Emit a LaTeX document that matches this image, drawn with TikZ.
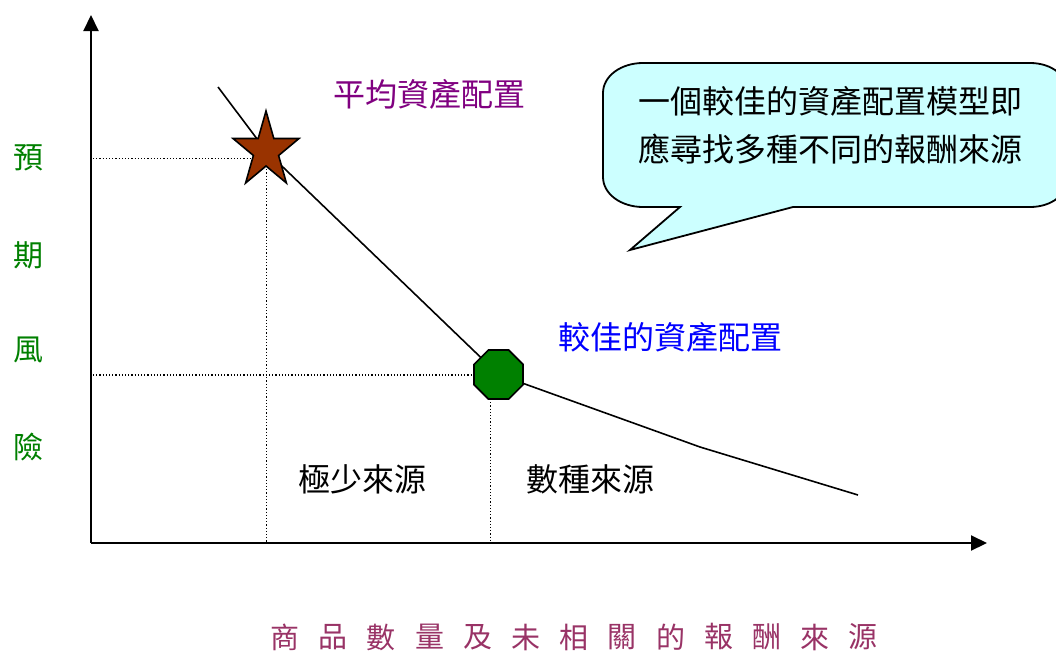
\documentclass[tikz,border=0pt]{standalone}
\usepackage{fontspec}
\setmainfont{Noto Sans CJK TC}
\usetikzlibrary{arrows.meta,shapes.geometric}
\definecolor{starbrown}{RGB}{153,51,0}
\definecolor{octgreen}{RGB}{0,128,0}
\definecolor{lblpurple}{RGB}{128,0,128}
\definecolor{lblblue}{RGB}{0,0,255}
\definecolor{axisgreen}{RGB}{0,128,0}
\definecolor{bottomred}{RGB}{153,51,102}
\definecolor{calloutfill}{RGB}{204,255,255}
\tikzset{
  axisline/.style={line width=2pt,-{Triangle[length=16pt,width=15pt]}},
  curveline/.style={line width=1.6pt},
  guide/.style={line width=1.2pt,dash pattern=on 1.2pt off 2pt},
  lbl/.style={inner sep=0pt,font=\fontsize{32pt}{36pt}\selectfont},
  sidelbl/.style={inner sep=0pt,font=\fontsize{30pt}{34pt}\selectfont,text=axisgreen},
  xchar/.style={inner sep=0pt,font=\fontsize{29pt}{34pt}\selectfont,text=bottomred},
}
\begin{document}
\begin{tikzpicture}[x=1pt,y=-1pt]
\clip (0,0) rectangle (1056,653);
\fill[white] (0,0) rectangle (1056,653);

% axes
\coordinate (O) at (91,543);
\coordinate (ytop) at (91,15);
\coordinate (xend) at (987,543);
\draw[axisline] (O) -- (ytop);
\draw[axisline] (O) -- (xend);

% points on curve
\coordinate (c0) at (218,87);
\coordinate (starc) at (266,150.8);
\node[regular polygon,regular polygon sides=8,minimum size=53pt,inner sep=0pt] (oct) at (498.5,374.5) {};
\coordinate (bend) at (700,447);
\coordinate (c1) at (858,495);

% guides
\coordinate (yS) at (93,158.5);
\coordinate (sL) at (252,158.5);
\coordinate (sB) at (266.5,166);
\coordinate (xS) at (266.5,543);
\coordinate (yO) at (93,375);
\coordinate (oL) at (474,375);
\coordinate (oB) at (490.5,399);
\coordinate (xO) at (490.5,543);
\draw[guide] (yS) -- (sL);
\draw[guide] (sB) -- (xS);
\draw[guide] (yO) -- (oL);
\draw[guide] (oB) -- (xO);

% curve
\draw[curveline] (c0) -- (starc) -- (oct.center) -- (bend) -- (c1);

% star
\draw[line width=1.6pt,fill=starbrown,line join=miter]
  (266,111) -- (258.2,138.5) -- (233.0,138.5) -- (253.4,155.5) -- (245.6,183.0)
  -- (266,166.0) -- (286.4,183.0) -- (278.6,155.5) -- (299.0,138.5) -- (273.8,138.5) -- cycle;

% octagon
\node[regular polygon,regular polygon sides=8,minimum size=53pt,inner sep=0pt,
      draw,line width=1.6pt,fill=octgreen] at (oct.center) {};

% callout
\draw[line width=1.8pt,fill=calloutfill,line join=miter]
  (680,207) -- (630,250) -- (793,207) -- (1030,207)
  .. controls (1052,207) and (1068,194) .. (1068,177) -- (1068,93)
  .. controls (1068,76) and (1052,63) .. (1030,63) -- (643,63)
  .. controls (621,63) and (603,76) .. (603,93) -- (603,177)
  .. controls (603,194) and (621,207) .. (643,207) -- cycle;
\node[lbl,align=center,font=\fontsize{32pt}{48pt}\selectfont] (calltext) at (830,125)
  {一個較佳的資產配置模型即\\應尋找多種不同的報酬來源};

% labels
\node[lbl,text=lblpurple] (avg) at (429,94) {平均資產配置};
\node[lbl,text=lblblue] (better) at (670,337) {較佳的資產配置};
\node[lbl] (few) at (362,479) {極少來源};
\node[lbl] (several) at (590,479) {數種來源};

\node[sidelbl] (s1) at (28,158) {預};
\node[sidelbl] (s2) at (28,255) {期};
\node[sidelbl] (s3) at (28,350) {風};
\node[sidelbl] (s4) at (28,447) {險};

% x-axis title, widely spaced characters
\foreach \ch [count=\i from 0] in {商,品,數,量,及,未,相,關,的,報,酬,來,源}
  \node[xchar] (xt\i) at ({285+48.2*\i},637) {\ch};
\end{tikzpicture}
\end{document}
